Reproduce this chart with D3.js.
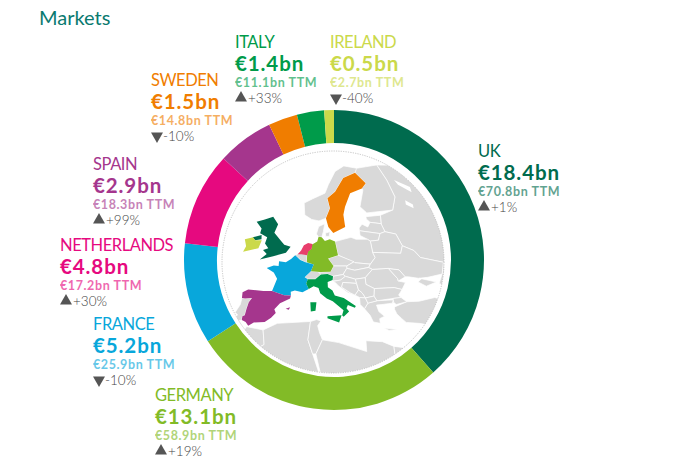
<!DOCTYPE html>
<html>
<head>
<meta charset="utf-8">
<script src="https://cdn.jsdelivr.net/npm/d3@7"></script>
<style>
  html, body { margin: 0; background: #fff; }
  svg { display: block; font-family: Lato, sans-serif; }
  .name { font-size: 16.5px; font-weight: 400; letter-spacing: -0.45px; }
  .value { font-size: 20.5px; font-weight: 700; letter-spacing: 0.9px; }
  .ttm { font-size: 12.5px; font-weight: 700; letter-spacing: 0.6px; opacity: .62; }
  .pct { font-size: 13.5px; fill: #444; font-weight: 300; }
</style>
</head>
<body>
<svg id="chart" width="681" height="462"></svg>
<script>
const markets = ['UK', 'GERMANY', 'FRANCE', 'NETHERLANDS', 'SPAIN', 'SWEDEN', 'ITALY', 'IRELAND']
const revenue = [18.4, 13.1, 5.2, 4.8, 2.9, 1.5, 1.4, 0.5]
const ttm = [70.8, 58.9, 25.9, 17.2, 18.3, 14.8, 11.1, 2.7]
const change = [1, 19, -10, 30, 99, -10, 33, -40]
const colors = ['#006b4e', '#82bb27', '#08a7db', '#e6097f', '#a5368d', '#f07d00', '#009b4a', '#cbd94a']
// the netherlands is a redder pink on the map than on the ring
const mapColors = ['#006b4e', '#82bb27', '#08a7db', '#e83e6c', '#a5368d', '#f07d00', '#009b4a', '#cbd94a']

// top left corner of each label block, same order as markets
const labelX = [478, 155, 93, 60, 93, 151, 235, 330]
const labelY = [157, 401, 330, 251, 170, 86, 48, 48]

// rough country outlines as lon/lat, nudged to the shapes in the picture
const uk = [
  [[-8.2,59.2],[-5.5,57.6],[-5.8,55.8],[-2.8,54],[-1.5,53.2],[0.6,52.8],[-0.4,51.5],[-3.9,50.8],[-7.5,50.1],[-6,51.25],[-7.5,52.1],[-6.1,52.5],[-7.6,53.5],[-7.6,54.8],[-10.4,55.66],[-10.6,56.7],[-13.3,58.1],[-10.8,58.6]],
  [[-12.3,54.8],[-9.7,55.3],[-9.2,54.4],[-11.1,54.2]]
]
const ireland = [[[-14.5,54.4],[-12.1,54.8],[-11.1,54.2],[-9,54.2],[-9.1,52.5],[-13.3,51.75],[-13.1,52.9]]]
const france = [[[2.5,51],[4.2,50],[5.8,49.5],[8.2,49],[7.6,47.6],[6.1,46.3],[7,45.9],[6.7,45],[7.5,43.8],[6,43.1],[4,43.5],[3,43.2],[3.2,42.4],[1.5,42.5],[-1.8,43.4],[-1.2,46],[-2.5,47.3],[-4.8,48.3],[-3,48.8],[-1.6,48.7],[-1.8,49.7],[0.2,49.5],[1.5,50.2]]]
const spain = [
  [[-9.2,43.1],[-8,43.7],[-4,43.4],[-1.8,43.4],[1.5,42.5],[3.2,42.4],[3.1,41.8],[0.8,40.8],[-0.3,39.5],[0.2,38.7],[-0.7,37.7],[-2,36.8],[-4.5,36.7],[-5.6,36],[-6.4,36.8],[-7.4,37.2],[-7.5,38],[-7,38.2],[-7,39.6],[-6.9,41],[-6.4,41.9],[-8.1,41.8],[-8.9,41.9]],
  [[2.4,39.6],[3.4,39.9],[3.2,39.4]]
]
const netherlands = [[[3.2,51.2],[4.3,51.2],[6,51],[6.2,51.8],[7.1,52.3],[7.2,53.4],[5.8,53.6],[4.6,53.1],[4,52]]]
const germany = [[[7.1,53.3],[8.6,53.9],[8.9,54.9],[9.9,54.8],[11,54],[12.5,54.4],[14.2,53.9],[14.6,52.6],[15,51],[12.2,50.3],[13.8,48.7],[13,47.5],[10.2,47.4],[7.6,47.6],[8.2,49],[6.2,49.5],[6,51],[6,51.8],[7,52.3]]]
const sweden = [[[22.5,68.55],[25.9,66.3],[24,65.2],[19.5,64.2],[17.4,61.3],[16.75,59.6],[17.1,57],[13.6,55.7],[11.9,57],[10.9,58.85],[12.2,61],[11,63.1],[14.1,64.5],[17.4,67.4]]]
const italy = [
  [[7,45.9],[9,45.9],[10.4,46.9],[12.2,47],[13.7,46.5],[13.6,45.7],[12.3,45.3],[12.4,44.2],[13.6,43.5],[14.2,42.4],[16.1,41.9],[18.5,40.2],[18.3,39.8],[16.9,40.4],[16.6,39.7],[17.1,39],[16,37.9],[15.7,38.2],[16,39.3],[15,40.2],[13.7,41.2],[12.2,41.8],[10.5,42.9],[10,44],[8.7,44.4],[7.5,43.8],[6.7,45]],
  [[8.2,41],[9.7,41],[9.6,39.2],[8.5,39]],
  [[12.5,38],[15.6,38.2],[15.1,36.7],[12.5,37.6]]
]
const marketShapes = [uk, germany, france, netherlands, spain, sweden, italy, ireland]

const otherLand = [
  [[-8.9,41.9],[-8.1,41.8],[-6.4,41.9],[-6.9,41],[-7,39.6],[-7,38.2],[-7.5,38],[-7.4,37.2],[-9,37],[-8.8,38.4],[-9.5,38.8],[-8.8,40.5]],
  [[2.5,51],[3.4,51.4],[4.3,51.4],[6,51.2],[6,51],[6.2,49.5],[5.8,49.5],[4.2,50]],
  [[8.1,55.5],[8.6,57.1],[10.6,57.7],[10.3,56],[9.9,54.8],[8.9,54.9]],
  [[11,55.7],[12.5,56],[12.3,55],[11.2,55]],
  [[10.9,58.85],[8.5,58.3],[5.9,58.6],[3.1,59.55],[1.9,62.1],[5,63],[9.8,64.2],[11,66],[14,68.8],[18,70],[23.6,69.5],[33,70.2],[22.5,68.55],[17.4,67.4],[14.1,64.5],[11,63.1],[12.2,61]],
  [[33,70.2],[60,70],[70,45],[48,42],[40,43.5],[37,45],[38.5,47],[40,49.5],[35,50.5],[34,52],[31.5,53],[30.8,55.5],[28,56],[27.5,57.5],[28,59.5],[32.3,60.6],[34.8,63.4],[34.5,67]],
  [[25.9,66.3],[24,65.2],[24.3,64.9],[22.2,61.3],[24,60],[32.3,60.6],[34.8,63.4],[34.5,67],[33,70.2],[23.6,69.5],[22.5,68.55]],
  [[23.5,59.2],[28,59.5],[27.5,57.7],[24.4,58],[23.5,58.7]],
  [[21,56.8],[22,57.6],[23.5,57],[24.4,58],[27.5,57.7],[28,56],[26.5,55.6],[21,56.2]],
  [[21,56.2],[26.5,55.6],[25.7,54.2],[23.5,54],[22.8,54.4],[21,55.2]],
  [[26.5,55.6],[28,56],[30.8,55.5],[31.5,53],[30.5,51.4],[23.6,51.6],[23.5,54],[25.7,54.2]],
  [[14.2,53.9],[18.5,54.8],[19.8,54.4],[22.8,54.4],[23.5,54],[23.6,51.6],[24,50.5],[22.6,49.1],[19,49.4],[15,51],[14.6,52.6]],
  [[12.2,50.3],[15,51],[18.8,49.6],[17,48.7],[13.8,48.7]],
  [[17,48.2],[17,48.7],[18.8,49.6],[19,49.4],[22.6,49.1],[22.1,48.4],[18.8,47.8]],
  [[9.6,47.3],[10.2,47.4],[13,47.5],[13.8,48.7],[17,48.7],[17,48.2],[16.1,46.9],[13.7,46.5],[12.2,47],[10.4,46.9]],
  [[6.1,46.3],[7.6,47.6],[9.6,47.5],[10.4,46.9],[9,45.9],[7,45.9]],
  [[16.1,46.9],[17,48.2],[18.8,47.8],[22.1,48.4],[22.9,48],[21,46.2],[18.8,45.9],[16.6,46.5]],
  [[22.9,48],[26.6,48.2],[28.2,46],[28.2,45.5],[29.7,45.2],[28.6,43.7],[27,44.1],[22.7,43.9],[21,44.8],[21,46.2]],
  [[26.6,48.2],[29,47.9],[30,46.4],[28.2,45.5],[28.2,46]],
  [[24,50.5],[23.6,51.6],[30.5,51.4],[31.5,53],[34,52],[35,50.5],[40,49.5],[38.5,47],[35,46.3],[33,46.1],[36.5,45.3],[34,44.4],[32.5,45.3],[33.5,46],[30.7,46.4],[30,46.4],[29,47.9],[26.6,48.2],[22.9,48],[22.1,48.4],[22.6,49.1]],
  [[22.7,43.9],[27,44.1],[28.6,43.7],[27.6,42.5],[28,42],[26.3,41.8],[22.9,41.3],[22.4,42.3]],
  [[20.2,39.6],[21,40.8],[22.9,41.3],[26.3,41.5],[26,40.8],[23.8,40.5],[22.7,40.4],[23,39],[24,38],[23,37.5],[23,36.5],[21.7,36.8],[21.2,38.2]],
  [[13.7,46.5],[16.1,46.9],[16.6,46.5],[15.5,45.7],[13.6,45.5]],
  [[13.6,45.4],[15.5,45.7],[16.6,46.5],[18.8,45.9],[19,45],[16,45.2],[15.7,44.2],[17.5,43],[18.5,42.5],[17,43],[15,44.5],[14.3,45.2]],
  [[16,45.2],[19,45],[19.3,43.6],[18.5,42.5],[17.5,43],[15.7,44.2]],
  [[18.8,45.9],[21,46.2],[21,44.8],[22.7,43.9],[22.4,42.3],[20.6,41.9],[20,43],[19.3,43.6],[19,45]],
  [[18.5,42.5],[19.4,42],[20.6,41.9],[20,43],[19.3,43.6]],
  [[19.4,42],[20.6,41.9],[21,40.8],[20.2,39.6],[19.4,40.5]],
  [[20.6,41.9],[22.4,42.3],[22.9,41.3],[21,40.8]],
  [[26.2,39.5],[26.3,40],[29,41.1],[31.5,41.2],[35,42],[38,41],[41.5,41.5],[44.5,40],[44.5,37],[36,36.2],[36,36.8],[32.5,36.1],[30.5,36.5],[28,36.7],[27.3,37.5],[26.5,38.5]],
  [[26.3,41.8],[28,42],[29,41.1],[26.7,40.5],[26.3,41]],
  [[-5.9,35.8],[-2,35.1],[-1.2,32],[-8,27.7],[-13,27.7],[-10,31],[-7,33.8]],
  [[-2,35.1],[1,36.5],[8.6,36.9],[8.3,33],[9.5,30],[12,23],[0,20],[-8,27.7],[-1.2,32]],
  [[8.6,36.9],[10,37.3],[11,37],[10.3,36],[10.8,34.5],[11.5,33],[10.2,30],[9.5,30],[8.3,33]],
  [[11.5,33],[15,32.4],[20,30.5],[20,32.8],[23,32.6],[25,31.6],[25,20],[12,23],[10.2,30]],
  [[25,31.6],[29,31],[32,31.3],[34.5,31.3],[34,25],[25,22]],
  [[23.6,35.5],[26.2,35.2],[24.5,35]]
]
// white sea and lake onega, they sit on top of the grey
const water = [
  [[37.4,67],[42,65.5],[41.5,64.4],[38,66]],
  [[37.75,62.7],[39.6,61.8],[39.2,61],[37.3,61.8]]
]

let svg = d3.select('#chart')
let cx = 334, cy = 260

svg.append('text')
    .text('Markets')
    .attr('x', 39)
    .attr('y', 25)
    .attr('fill', '#0a7a70')
    .attr('font-size', 20)
    .attr('font-weight', 400)

// ring
let pie = d3.pie().sort(null).value(d => d)
let arc = d3.arc().innerRadius(117).outerRadius(150)

svg.append('g')
    .attr('transform', `translate(${cx}, ${cy})`)
    .selectAll('path')
    .data(pie(revenue))
    .enter().append('path')
    .attr('d', arc)
    .attr('fill', (d, i) => colors[i])

// map inside the ring, sinusoidal style with a wider east
svg.append('clipPath')
    .attr('id', 'mapClip')
    .append('circle')
    .attr('cx', 333).attr('cy', 262).attr('r', 111)

let latY = d3.scaleLinear().domain([52, 62]).range([250.5, 203.5])
let lonX = d3.scaleLinear().domain([-60, 0, 60]).range([-324, 0, 389])
let project = ([lon, lat]) => [336 + lonX(lon - 14.5) * Math.cos(lat * Math.PI / 180), latY(lat)]

let ringPath = rings => rings.map(r => d3.line()(r.map(project)) + 'Z').join('')

let mapG = svg.append('g').attr('clip-path', 'url(#mapClip)')

mapG.selectAll('.land')
    .data(otherLand)
    .enter().append('path')
    .attr('class', 'land')
    .attr('d', d => ringPath([d]))
    .attr('fill', '#d9d9d9')
    .attr('stroke', '#fff')
    .attr('stroke-width', 0.7)

mapG.selectAll('.water')
    .data(water)
    .enter().append('path')
    .attr('class', 'water')
    .attr('d', d => ringPath([d]))
    .attr('fill', '#fff')

mapG.selectAll('.market')
    .data(marketShapes)
    .enter().append('path')
    .attr('class', 'market')
    .attr('d', ringPath)
    .attr('fill', (d, i) => mapColors[i])

svg.append('circle')
    .attr('cx', 333).attr('cy', 262).attr('r', 111)
    .attr('fill', 'none')
    .attr('stroke', '#b5b5b5')
    .attr('stroke-width', 0.8)
    .attr('stroke-dasharray', '1.2 1.2')

// labels
let labels = svg.selectAll('.label')
    .data(markets)
    .enter().append('g')
    .attr('class', 'label')
    .attr('transform', (d, i) => `translate(${labelX[i]}, ${labelY[i]})`)

labels.append('text').attr('class', 'name')
    .text(d => d)
    .attr('fill', (d, i) => colors[i])

labels.append('text').attr('class', 'value')
    .text((d, i) => `€${revenue[i].toFixed(1)}bn`)
    .attr('y', 23)
    .attr('fill', (d, i) => colors[i])

labels.append('text').attr('class', 'ttm')
    .text((d, i) => `€${ttm[i].toFixed(1)}bn TTM`)
    .attr('y', 39)
    .attr('fill', (d, i) => colors[i])

labels.append('path')
    .attr('d', d3.symbol(d3.symbolTriangle, 62))
    .attr('transform', (d, i) => `translate(6, 50) rotate(${change[i] < 0 ? 180 : 0})`)
    .attr('fill', '#555')

labels.append('text').attr('class', 'pct')
    .text((d, i) => (change[i] > 0 ? '+' : '') + change[i] + '%')
    .attr('x', (d, i) => change[i] < 0 ? 12 : 13)
    .attr('y', 55)
</script>
</body>
</html>
